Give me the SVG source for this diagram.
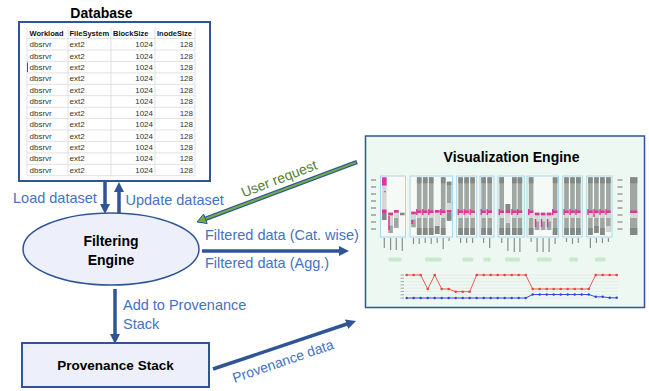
<svg xmlns="http://www.w3.org/2000/svg" width="649" height="391" viewBox="0 0 649 391">
<style>
text{font-family:"Liberation Sans",Arial,sans-serif}
.th{font-size:7.5px;font-weight:bold;fill:#111}
.td{font-size:8px;fill:#333}
.r{text-anchor:end}
.nt{font-size:14px;font-weight:bold;fill:#000;text-anchor:middle}
.lbl{font-size:14.5px;fill:#4472C4}
.grid{stroke:#D9D9D9;stroke-width:0.8;fill:none}
.arrow{stroke:#2F5597;stroke-width:3.5;fill:none}
.bm{fill:#A0A7A2}.bd{fill:#838A85}.bl{fill:#D4D9D5}.pk{fill:#E0359A}
.gbox{fill:#F5FAF7;stroke:#A9D6E8;stroke-width:1}
.pill{fill:#C8EACB}
.tick{stroke:#9A9A9A;stroke-width:1.3;fill:none}
.lab{stroke:#8C8C8C;stroke-width:1.2;fill:none}
</style>
<defs>
<marker id="ah" viewBox="0 0 10 10" refX="2" refY="5" markerWidth="10" markerHeight="10" markerUnits="userSpaceOnUse" orient="auto">
<path d="M0,0 L10,5 L0,10 z" fill="#2F5597"/>
</marker>
<g id="fb">
<rect class="bm" x="0" y="177.3" width="4.6" height="57.7"/>
<rect class="bd" x="0" y="177.3" width="4.6" height="6"/>
<rect class="bl" x="0" y="213" width="4.6" height="5"/>
<rect class="pk" x="0" y="210.5" width="4.6" height="2.5"/>
<rect class="pk" x="-0.8" y="209" width="1.4" height="6"/>
<rect class="bd" x="0" y="228" width="4.6" height="7"/>
</g>
</defs>

<g id="database">
<text x="101.5" y="18" class="nt">Database</text>
<rect x="19" y="22" width="191" height="159" fill="#FFFFFF" stroke="#2F5597" stroke-width="2"/>
<path class="grid" d="M27,38.6H195M27,50H195M27,61.4H195M27,72.9H195M27,84.3H195M27,95.7H195M27,107.2H195M27,118.6H195M27,130H195M27,141.4H195M27,152.9H195M27,164.3H195M27,175.7H195M27,27.5V175.7M68,27.5V175.7M111,27.5V175.7M155,27.5V175.7M195,27.5V175.7"/>
<line x1="27.5" y1="62.5" x2="27.5" y2="72" stroke="#217346" stroke-width="1"/>
<text class="th" x="29.5" y="35.7">Workload</text>
<text class="th" x="69.5" y="35.7">FileSystem</text>
<text class="th" x="113" y="35.7">BlockSize</text>
<text class="th" x="157" y="35.7">InodeSize</text>
<g class="td">
<text x="29.5" y="47.1">dbsrvr</text><text x="69.5" y="47.1">ext2</text><text class="r" x="153" y="47.1">1024</text><text class="r" x="193" y="47.1">128</text>
<text x="29.5" y="58.5">dbsrvr</text><text x="69.5" y="58.5">ext2</text><text class="r" x="153" y="58.5">1024</text><text class="r" x="193" y="58.5">128</text>
<text x="29.5" y="70">dbsrvr</text><text x="69.5" y="70">ext2</text><text class="r" x="153" y="70">1024</text><text class="r" x="193" y="70">128</text>
<text x="29.5" y="81.4">dbsrvr</text><text x="69.5" y="81.4">ext2</text><text class="r" x="153" y="81.4">1024</text><text class="r" x="193" y="81.4">128</text>
<text x="29.5" y="92.8">dbsrvr</text><text x="69.5" y="92.8">ext2</text><text class="r" x="153" y="92.8">1024</text><text class="r" x="193" y="92.8">128</text>
<text x="29.5" y="104.3">dbsrvr</text><text x="69.5" y="104.3">ext2</text><text class="r" x="153" y="104.3">1024</text><text class="r" x="193" y="104.3">128</text>
<text x="29.5" y="115.7">dbsrvr</text><text x="69.5" y="115.7">ext2</text><text class="r" x="153" y="115.7">1024</text><text class="r" x="193" y="115.7">128</text>
<text x="29.5" y="127.1">dbsrvr</text><text x="69.5" y="127.1">ext2</text><text class="r" x="153" y="127.1">1024</text><text class="r" x="193" y="127.1">128</text>
<text x="29.5" y="138.5">dbsrvr</text><text x="69.5" y="138.5">ext2</text><text class="r" x="153" y="138.5">1024</text><text class="r" x="193" y="138.5">128</text>
<text x="29.5" y="150">dbsrvr</text><text x="69.5" y="150">ext2</text><text class="r" x="153" y="150">1024</text><text class="r" x="193" y="150">128</text>
<text x="29.5" y="161.4">dbsrvr</text><text x="69.5" y="161.4">ext2</text><text class="r" x="153" y="161.4">1024</text><text class="r" x="193" y="161.4">128</text>
<text x="29.5" y="172.8">dbsrvr</text><text x="69.5" y="172.8">ext2</text><text class="r" x="153" y="172.8">1024</text><text class="r" x="193" y="172.8">128</text>
</g>
</g>

<g id="filtering-engine">
<ellipse cx="111" cy="249" rx="88" ry="36" fill="#EDF0FA" stroke="#2F5597" stroke-width="1.5"/>
<text x="111" y="246" class="nt">Filtering</text>
<text x="111" y="265" class="nt">Engine</text>
</g>

<g id="provenance-stack">
<rect x="22" y="343" width="187" height="44" fill="#EDF0FA" stroke="#2F5597" stroke-width="2"/>
<text x="115.5" y="370" class="nt" style="font-size:13.5px">Provenance Stack</text>
</g>

<g id="visualization-engine">
<rect x="365.5" y="136" width="279" height="171.5" fill="#EEF8F2" stroke="#2F5597" stroke-width="1.5"/>
<text x="511.5" y="162" class="nt">Visualization Engine</text>
<path class="tick" d="M371,180H376M371,187H376M371,194H376M371,201H376M371,208H376M371,215H376M371,222H376M371,229H376M617.5,180H622.5M617.5,187H622.5M617.5,194H622.5M617.5,201H622.5M617.5,208H622.5M617.5,215H622.5M617.5,222H622.5M617.5,229H622.5"/>
<rect class="gbox" x="380.5" y="176" width="25" height="61"/>
<rect class="gbox" x="410" y="176" width="42.5" height="61"/>
<rect class="gbox" x="456.7" y="176" width="20" height="61"/>
<rect class="gbox" x="480" y="176" width="14" height="61"/>
<rect class="gbox" x="498" y="176" width="26.3" height="61"/>
<rect class="gbox" x="527" y="176" width="31.5" height="61"/>
<rect class="gbox" x="562.7" y="176" width="19.5" height="61"/>
<rect class="gbox" x="586.7" y="176" width="25.3" height="61"/>
<!-- group 1 -->
<rect class="bl" x="382" y="177.3" width="4.6" height="32.7"/>
<rect class="pk" x="382" y="177.3" width="4.6" height="8.2"/>
<rect class="pk" x="382" y="209.5" width="4.6" height="3.5"/>
<rect class="bd" x="382" y="213" width="4.6" height="7"/>
<circle cx="385" cy="191.7" r="0.6" fill="#333"/>
<rect class="bm" x="388.3" y="212.7" width="4.6" height="20.3"/>
<rect class="bl" x="388.3" y="215.5" width="4.6" height="10"/>
<rect class="pk" x="388.3" y="212.7" width="4.6" height="2.5"/>
<rect class="pk" x="388.3" y="216" width="1.5" height="14"/>
<rect class="bm" x="394" y="210" width="4.6" height="18"/>
<rect class="pk" x="394" y="210" width="4.6" height="2.5"/>
<rect class="bl" x="394" y="213" width="4.6" height="5"/>
<rect class="bd" x="400" y="212.7" width="4.6" height="2.6"/>
<!-- group 2 -->
<rect class="bm" x="411.2" y="211.7" width="4.6" height="15.6"/>
<rect class="pk" x="411.2" y="211.7" width="4.6" height="2.5"/>
<rect class="bl" x="411.2" y="214.5" width="4.6" height="5"/>
<rect class="pk" x="411.2" y="220" width="2" height="4"/>
<use href="#fb" x="416.9"/>
<use href="#fb" x="422.9"/>
<use href="#fb" x="428.9"/>
<rect class="bm" x="434.9" y="210" width="4.6" height="24"/>
<rect class="pk" x="434.9" y="210" width="4.6" height="2.5"/>
<rect class="bl" x="434.9" y="213" width="4.6" height="13"/>
<rect class="bd" x="434.9" y="226" width="4.6" height="8"/>
<use href="#fb" x="440.9"/>
<rect class="bm" x="446.8" y="181.7" width="4.6" height="39"/>
<rect class="bd" x="446.8" y="181.7" width="4.6" height="3.5"/>
<rect class="bl" x="446.8" y="203" width="4.6" height="7"/>
<rect class="pk" x="446.8" y="210" width="4.6" height="2.5"/>
<rect class="bd" x="446.8" y="213" width="4.6" height="7.7"/>
<!-- group 3,4 -->
<use href="#fb" x="458.3"/><use href="#fb" x="464.3"/><use href="#fb" x="470.3"/>
<use href="#fb" x="481.3"/><use href="#fb" x="487.4"/>
<!-- group 5 -->
<use href="#fb" x="499.4"/>
<rect class="bm" x="505.6" y="204" width="4.6" height="31"/>
<rect class="bd" x="505.6" y="204" width="4.6" height="7"/>
<rect class="bl" x="505.6" y="213" width="4.6" height="10"/>
<rect class="pk" x="505.6" y="210.5" width="4.6" height="2.5"/>
<rect class="bd" x="505.6" y="228" width="4.6" height="7"/>
<use href="#fb" x="512"/><use href="#fb" x="517.6"/>
<!-- group 6 -->
<use href="#fb" x="528.8"/>
<rect class="bm" x="534.8" y="212.7" width="4.6" height="17.3"/>
<rect class="pk" x="534.8" y="212.7" width="4.6" height="2.5"/>
<rect class="bl" x="534.8" y="215.5" width="4.6" height="6"/>
<rect class="pk" x="534.8" y="219" width="1.5" height="8"/>
<rect class="bm" x="540.8" y="212.7" width="4.6" height="17.3"/>
<rect class="pk" x="540.8" y="212.7" width="4.6" height="2.5"/>
<rect class="bl" x="540.8" y="215.5" width="4.6" height="6"/>
<rect class="pk" x="540.8" y="219" width="1.5" height="8"/>
<rect class="bm" x="546.8" y="212.7" width="4.6" height="17.3"/>
<rect class="pk" x="546.8" y="212.7" width="4.6" height="2.5"/>
<rect class="bl" x="546.8" y="215.5" width="4.6" height="6"/>
<rect class="pk" x="546.8" y="219" width="1.5" height="8"/>
<use href="#fb" x="552.8"/>
<!-- group 7 -->
<use href="#fb" x="564.2"/><use href="#fb" x="570.2"/><use href="#fb" x="576"/>
<!-- group 8 -->
<use href="#fb" x="588.1"/>
<rect class="bm" x="594.1" y="177.3" width="4.6" height="55.7"/>
<rect class="bd" x="594.1" y="177.3" width="4.6" height="6"/>
<rect class="bl" x="594.1" y="213" width="4.6" height="5"/>
<rect class="pk" x="594.1" y="210.5" width="4.6" height="2.5"/>
<rect class="pk" x="593.3" y="209" width="1.4" height="8"/>
<rect class="bd" x="594.1" y="226" width="4.6" height="7"/>
<use href="#fb" x="600.1"/>
<rect class="bm" x="606.1" y="177.3" width="4.6" height="54.4"/>
<rect class="bd" x="606.1" y="177.3" width="4.6" height="6"/>
<rect class="bl" x="606.1" y="213" width="4.6" height="5"/>
<rect class="pk" x="606.1" y="210.5" width="4.6" height="2.5"/>
<rect class="pk" x="605.3" y="209" width="1.4" height="6"/>
<rect class="bl" x="606.1" y="226" width="4.6" height="5.7"/>
<!-- right bar -->
<rect class="bm" x="630" y="177.3" width="7.3" height="57.7"/>
<rect class="bd" x="630" y="177.3" width="7.3" height="6"/>
<rect class="bl" x="630" y="213" width="7.3" height="5"/>
<rect class="pk" x="630" y="210.5" width="7.3" height="2.5"/>
<rect class="bd" x="630" y="228" width="7.3" height="7"/>
<!-- rotated label marks -->
<path class="lab" d="M384.3,238v10M390.6,238v12M396.3,238v12M402.3,238v13M413.5,238v6M419.2,238v6M425.2,238v5M431.2,238v6M437.2,238v5M443.2,238v11M449.1,238v3M460.6,238v5M466.6,238v5M472.6,238v5M483.6,238v5M489.7,238v10M501.7,238v5M507.9,238v13M514.3,238v14M519.9,238v14M531.1,238v4M537.1,238v14M543.1,238v14M549.1,238v14M555.1,238v6M566.5,238v4M572.5,238v6M578.3,238v5M590.4,238v10M596.4,238v5M602.4,238v5M608.4,238v4"/>
<!-- category pills -->
<rect class="pill" x="388.3" y="257.5" width="13.4" height="4" rx="1.5"/>
<rect class="pill" x="425" y="257.5" width="16.7" height="4" rx="1.5"/>
<rect class="pill" x="462.3" y="257.5" width="11" height="4" rx="1.5"/>
<rect class="pill" x="483.3" y="257.5" width="7.4" height="4" rx="1.5"/>
<rect class="pill" x="505" y="257.5" width="15" height="4" rx="1.5"/>
<rect class="pill" x="536.7" y="257.5" width="15" height="4" rx="1.5"/>
<rect class="pill" x="569.3" y="257.5" width="9" height="4" rx="1.5"/>
<rect class="pill" x="595" y="257.5" width="10.7" height="4" rx="1.5"/>
<!-- line chart -->
<path d="M405,275H618M405,278.3H618M405,281.6H618M405,284.9H618M405,288.2H618M405,291.5H618M405,294.8H618M405,298.1H618" stroke="#DDE6E0" stroke-width="0.6" fill="none"/>
<path class="tick" style="stroke-width:0.9" d="M400.5,275H404M400.5,278.3H404M400.5,281.6H404M400.5,284.9H404M400.5,288.2H404M400.5,291.5H404M400.5,294.8H404M400.5,298.1H404"/>
<polyline fill="none" stroke="#EE5A52" stroke-width="1" stroke-linejoin="round" points="406.7,275 413.7,275 420.7,275 427.7,289 434.7,275 441.7,289 448.7,289 455.7,291.7 462.7,291.7 469.7,291.7 476.7,275 483.7,275 490.7,275 497.7,275 504.7,275 511.7,275 518.7,275 525.7,275 532.7,289 539.7,289 546.7,289 553.7,289 560.7,289 567.7,289 574.7,289 581.7,289 588.7,289 595.7,275 602.7,275 609.7,275 616.7,275"/>
<polyline fill="none" stroke="#3A4BE0" stroke-width="1" stroke-linejoin="round" points="406.7,298 413.7,298 420.7,298 427.7,298 434.7,298 441.7,298 448.7,298 455.7,298 462.7,298 469.7,298 476.7,298 483.7,298 490.7,298 497.7,298 504.7,298 511.7,298 518.7,298 525.7,298 532.7,294.5 539.7,294.5 546.7,294.5 553.7,294.5 560.7,294.5 567.7,294.5 574.7,294.5 581.7,294.5 588.7,294.5 595.7,296.8 602.7,296.8 609.7,297.8 616.7,297.8"/>
<g fill="#E8453D">
<circle cx="406.7" cy="275" r="1.3"/><circle cx="413.7" cy="275" r="1.3"/><circle cx="420.7" cy="275" r="1.3"/><circle cx="427.7" cy="289" r="1.3"/><circle cx="434.7" cy="275" r="1.3"/><circle cx="441.7" cy="289" r="1.3"/><circle cx="448.7" cy="289" r="1.3"/><circle cx="455.7" cy="291.7" r="1.3"/><circle cx="462.7" cy="291.7" r="1.3"/><circle cx="469.7" cy="291.7" r="1.3"/><circle cx="476.7" cy="275" r="1.3"/><circle cx="483.7" cy="275" r="1.3"/><circle cx="490.7" cy="275" r="1.3"/><circle cx="497.7" cy="275" r="1.3"/><circle cx="504.7" cy="275" r="1.3"/><circle cx="511.7" cy="275" r="1.3"/><circle cx="518.7" cy="275" r="1.3"/><circle cx="525.7" cy="275" r="1.3"/><circle cx="532.7" cy="289" r="1.3"/><circle cx="539.7" cy="289" r="1.3"/><circle cx="546.7" cy="289" r="1.3"/><circle cx="553.7" cy="289" r="1.3"/><circle cx="560.7" cy="289" r="1.3"/><circle cx="567.7" cy="289" r="1.3"/><circle cx="574.7" cy="289" r="1.3"/><circle cx="581.7" cy="289" r="1.3"/><circle cx="588.7" cy="289" r="1.3"/><circle cx="595.7" cy="275" r="1.3"/><circle cx="602.7" cy="275" r="1.3"/><circle cx="609.7" cy="275" r="1.3"/><circle cx="616.7" cy="275" r="1.3"/>
</g>
<g fill="#2F3FD8">
<circle cx="406.7" cy="298" r="1.2"/><circle cx="413.7" cy="298" r="1.2"/><circle cx="420.7" cy="298" r="1.2"/><circle cx="427.7" cy="298" r="1.2"/><circle cx="434.7" cy="298" r="1.2"/><circle cx="441.7" cy="298" r="1.2"/><circle cx="448.7" cy="298" r="1.2"/><circle cx="455.7" cy="298" r="1.2"/><circle cx="462.7" cy="298" r="1.2"/><circle cx="469.7" cy="298" r="1.2"/><circle cx="476.7" cy="298" r="1.2"/><circle cx="483.7" cy="298" r="1.2"/><circle cx="490.7" cy="298" r="1.2"/><circle cx="497.7" cy="298" r="1.2"/><circle cx="504.7" cy="298" r="1.2"/><circle cx="511.7" cy="298" r="1.2"/><circle cx="518.7" cy="298" r="1.2"/><circle cx="525.7" cy="298" r="1.2"/><circle cx="532.7" cy="294.5" r="1.2"/><circle cx="539.7" cy="294.5" r="1.2"/><circle cx="546.7" cy="294.5" r="1.2"/><circle cx="553.7" cy="294.5" r="1.2"/><circle cx="560.7" cy="294.5" r="1.2"/><circle cx="567.7" cy="294.5" r="1.2"/><circle cx="574.7" cy="294.5" r="1.2"/><circle cx="581.7" cy="294.5" r="1.2"/><circle cx="588.7" cy="294.5" r="1.2"/><circle cx="595.7" cy="296.8" r="1.2"/><circle cx="602.7" cy="296.8" r="1.2"/><circle cx="609.7" cy="297.8" r="1.2"/><circle cx="616.7" cy="297.8" r="1.2"/>
</g>
</g>

<g id="connectors">
<line class="arrow" x1="105" y1="182" x2="105" y2="206" marker-end="url(#ah)"/>
<line class="arrow" x1="119" y1="213" x2="119" y2="190" marker-end="url(#ah)"/>
<line class="arrow" x1="115" y1="289" x2="115" y2="336" marker-end="url(#ah)"/>
<line class="arrow" x1="202" y1="251" x2="341" y2="251" marker-end="url(#ah)"/>
<line class="arrow" x1="213" y1="369" x2="348.4" y2="323.5" marker-end="url(#ah)"/>
<g id="user-request-arrow">
<line x1="357" y1="162" x2="205.4" y2="218.8" stroke="#2F5597" stroke-width="4.5"/>
<line x1="356" y1="162.4" x2="205.4" y2="218.8" stroke="#70AD47" stroke-width="2"/>
<polygon points="197,222 207.2,223.5 203.6,214.1" fill="#70AD47" stroke="#2F5597" stroke-width="1"/>
</g>
</g>

<g id="labels">
<text class="lbl" x="13" y="203">Load dataset</text>
<text class="lbl" x="125.5" y="205">Update dataset</text>
<text class="lbl" x="205" y="240">Filtered data (Cat. wise)</text>
<text class="lbl" x="205" y="268">Filtered data (Agg.)</text>
<text class="lbl" x="123" y="310">Add to Provenance</text>
<text class="lbl" x="123" y="329">Stack</text>
<text class="lbl" x="280.8" y="183.2" text-anchor="middle" transform="rotate(-21 280.8 183.2)" style="fill:#548235;font-size:14px">User request</text>
<text class="lbl" x="284.6" y="365.7" text-anchor="middle" transform="rotate(-19 284.6 365.7)" style="font-size:14px">Provenance data</text>
</g>
</svg>
